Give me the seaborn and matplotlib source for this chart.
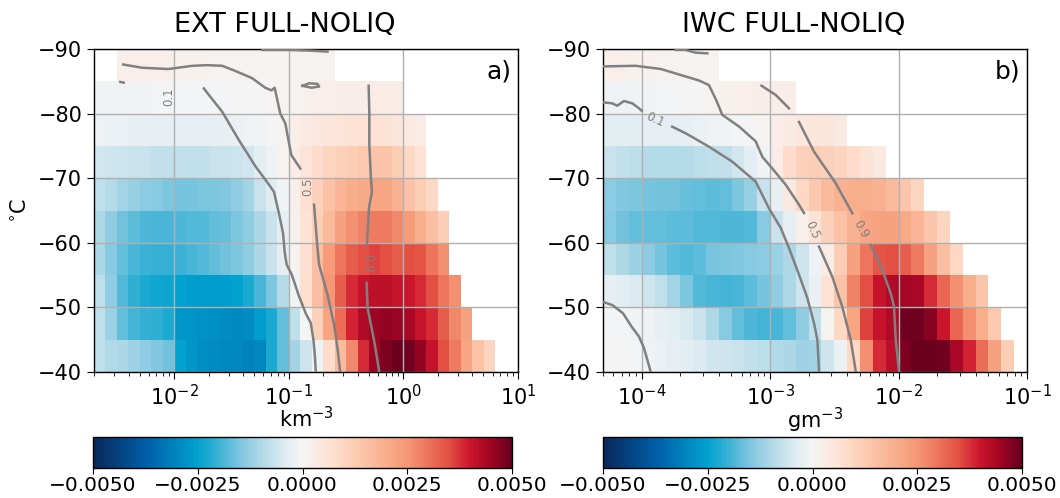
import numpy as np
import matplotlib
matplotlib.use("Agg")
import matplotlib.pyplot as plt
import seaborn as sns
from matplotlib.colors import LinearSegmentedColormap
from matplotlib.ticker import FuncFormatter

nan = np.nan

# ---------------- data ----------------
temp_edges = [-90, -85, -80, -75, -70, -65, -60, -55, -50, -45, -40]
ext_logx_edges = [round(-2.7 + 0.1 * i, 2) for i in range(36)]
iwc_logx_edges = [round(-4.3 + 0.1 * i, 2) for i in range(33)]
value_scale = 1e-3

# EXT rows (-90..-85 first), units 1e-3
ext_rows = [
    [nan, nan, 0.2, 0.2, 0.2, 0.2, 0.2, 0.15, 0.15, 0.15, 0.1, 0.1, 0.1, 0.1, 0.1, 0.1, 0.1, 0.1, 0.1, 0.1, 0.1],
    [-0.1, -0.1, -0.1, -0.1, -0.1, -0.05, -0.05, -0.05, -0.05, -0.05, -0.05, -0.05, 0, 0, 0,
     0.05, 0.1, 0.1, 0.15, 0.2, 0.2, 0.25, 0.25, 0.25, 0.3, 0.3, 0.3],
    [-0.15, -0.2, -0.2, -0.25, -0.25, -0.3, -0.3, -0.3, -0.3, -0.3, -0.25, -0.25, -0.2, -0.15, -0.1,
     0, 0.1, 0.25, 0.35, 0.45, 0.5, 0.55, 0.6, 0.65, 0.65, 0.6, 0.5, 0.4, 0.3],
    [-0.55, -0.6, -0.65, -0.7, -0.7, -0.75, -0.75, -0.75, -0.75, -0.75, -0.7, -0.7, -0.65, -0.55, -0.35,
     -0.15, 0.1, 0.3, 0.55, 0.8, 1.0, 1.1, 1.2, 1.3, 1.45, 1.45, 1.2, 0.9, 0.6],
    [-0.8, -0.9, -1.1, -1.25, -1.35, -1.4, -1.5, -1.55, -1.55, -1.5, -1.5, -1.45, -1.3, -1.1, -0.7,
     -0.4, -0.1, 0.2, 0.7, 1.1, 1.5, 1.8, 2.0, 2.1, 2.2, 2.2, 1.9, 1.5, 1.2, 0.9],
    [-1.0, -1.3, -1.6, -1.75, -1.85, -1.9, -1.9, -1.85, -1.8, -1.8, -1.7, -1.65, -1.5, -1.3, -1.05,
     -0.7, -0.3, 0.15, 0.6, 1.2, 1.7, 2.3, 2.6, 2.8, 2.9, 2.9, 2.7, 2.4, 2.0, 1.6, 1.2],
    [-1.05, -1.4, -1.7, -1.9, -2.0, -2.05, -2.05, -2.0, -1.9, -1.8, -1.7, -1.6, -1.5, -1.3, -1.05,
     -0.7, -0.3, 0.1, 0.7, 1.6, 2.4, 3.0, 3.3, 3.5, 3.6, 3.5, 3.3, 3.5, 3.4, 3.0, 2.6],
    [-0.8, -1.3, -1.8, -2.1, -2.3, -2.35, -2.4, -2.5, -2.55, -2.6, -2.6, -2.55, -2.5, -2.3, -1.9,
     -1.5, -0.9, -0.1, 0.7, 1.6, 2.5, 3.3, 3.8, 4.1, 4.15, 4.15, 4.1, 4.0, 3.8, 3.5, 3.0, 2.6],
    [-0.8, -1.2, -1.7, -1.95, -2.05, -2.1, -2.3, -2.7, -2.75, -2.8, -2.85, -2.9, -2.95, -2.9, -2.6,
     -2.3, -1.7, -0.8, 0.0, 1.1, 2.2, 3.1, 3.9, 4.3, 4.5, 4.6, 4.55, 4.4, 4.1, 3.8, 3.3, 2.7, 2.3],
    [-0.8, -0.95, -1.05, -1.15, -1.3, -1.45, -1.6, -2.5, -2.7, -2.85, -2.9, -2.95, -3.0, -3.05, -3.0,
     -2.3, -1.7, -1.1, -0.6, -0.15, 0.8, 1.7, 2.7, 3.8, 4.5, 4.8, 4.95, 4.9, 4.6, 4.1, 3.5, 2.9, 2.2, 1.5, 1.0],
]

# IWC rows (-90..-85 first), units 1e-3
iwc_rows = [
    [0.2, 0.2, 0.15, 0.15, 0.1, 0.1, 0.1, 0.1, 0.1],
    [-0.15, -0.15, -0.1, -0.1, -0.05, -0.05, 0, 0, 0.1, 0.15, 0.2, 0.2, 0.25, 0.25, 0.25],
    [-0.35, -0.35, -0.35, -0.3, -0.3, -0.3, -0.25, -0.2, -0.15, -0.1, -0.05, 0.0, 0.1, 0.25, 0.35,
     0.45, 0.5, 0.5, 0.4],
    [-0.7, -0.75, -0.85, -0.9, -0.9, -0.9, -0.9, -0.85, -0.8, -0.75, -0.55, -0.35, -0.1, 0.3, 0.8,
     1.1, 1.2, 1.1, 1.0, 0.8, 0.6, 0.4],
    [-1.35, -1.45, -1.5, -1.55, -1.6, -1.6, -1.65, -1.7, -1.75, -1.7, -1.5, -1.25, -0.7, -0.25, 0.4,
     0.9, 1.3, 1.7, 1.9, 2.0, 2.0, 1.9, 1.7, 1.4, 1.0],
    [-1.4, -1.6, -1.7, -1.7, -1.7, -1.75, -1.75, -1.8, -1.8, -1.85, -1.85, -1.8, -1.4, -0.7, -0.3,
     0.2, 0.6, 1.1, 1.5, 1.9, 2.2, 2.3, 2.3, 2.1, 1.8, 1.4, 1.0],
    [-0.8, -1.0, -1.2, -1.35, -1.55, -1.75, -1.8, -1.75, -1.55, -1.5, -1.45, -1.4, -1.35, -1.2, -1.0,
     -0.6, -0.15, 0.3, 1.2, 2.3, 3.0, 3.4, 3.5, 3.3, 2.9, 2.3, 1.6, 0.9],
    [-0.25, -0.35, -0.45, -0.6, -0.8, -1.1, -1.5, -1.8, -1.9, -1.95, -1.9, -1.75, -1.55, -1.3, -1.0,
     -0.6, -0.2, 0.6, 1.5, 2.8, 3.5, 4.1, 4.3, 4.45, 4.4, 3.8, 3.2, 2.6, 2.0, 1.4],
    [-0.05, -0.05, -0.1, -0.15, -0.25, -0.35, -0.5, -0.7, -1.0, -1.4, -1.7, -1.85, -1.95, -1.9, -1.7,
     -1.3, -0.8, 0.1, 0.9, 2.2, 3.6, 4.1, 4.3, 4.9, 4.9, 4.7, 4.0, 3.2, 2.6, 2.0, 1.3],
    [0.0, 0.0, -0.05, -0.15, -0.2, -0.3, -0.35, -0.45, -0.55, -0.6, -0.7, -0.75, -0.85, -0.95, -1.05,
     -1.15, -1.1, -0.6, -0.2, 0.9, 2.6, 3.8, 4.2, 4.8, 4.95, 4.95, 4.9, 4.4, 3.9, 3.1, 2.3, 1.2],
]

# contour segments: (log10 x, temperature)
ext_c01 = [
    [(-2.47, -84.9), (-2.44, -84.8)],
    [(-1.741, -83.9), (-1.697, -82.9), (-1.581, -80.3), (-1.435, -75.9), (-1.289, -71.8), (-1.201, -69.7),
     (-1.129, -67.9), (-1.085, -64.5), (-1.05, -61.5), (-1.035, -58.5), (-1.018, -56.6), (-0.974, -55.1),
     (-0.916, -52.0), (-0.85, -49.0), (-0.808, -47.6), (-0.785, -45.0), (-0.772, -42.5), (-0.764, -40.0)],
]
ext_c05 = [
    [(-2.444, -87.6), (-2.28, -87.1), (-2.05, -86.9), (-1.84, -87.4), (-1.71, -87.5), (-1.58, -87.4),
     (-1.466, -86.6), (-1.321, -85.5), (-1.205, -84.0), (-1.15, -83.6), (-1.123, -84.0), (-1.074, -80.0),
     (-1.03, -78.5), (-0.978, -73.6), (-0.899, -71.5)],
    [(-0.779, -65.9), (-0.764, -62.5), (-0.752, -59.7), (-0.735, -56.6), (-0.662, -52.0), (-0.604, -47.3),
     (-0.575, -43.7), (-0.551, -40.0)],
]
ext_c09 = [
    [(-1.231, -89.85), (-0.997, -89.85), (-0.822, -89.75), (-0.662, -89.6)],
    [(-0.88, -84.3), (-0.82, -84.7), (-0.75, -84.6), (-0.735, -84.2), (-0.80, -84.0), (-0.88, -84.3)],
    [(-0.303, -84.3), (-0.297, -80.0), (-0.297, -75.1), (-0.283, -70.0), (-0.274, -67.9), (-0.30, -65.4),
     (-0.318, -59.7)],
    [(-0.321, -53.8), (-0.312, -49.9), (-0.254, -44.75), (-0.21, -40.0)],
]
ext_labels = [("0.1", -2.047, -82.6, 90), ("0.5", -0.835, -68.7, 90), ("0.9", -0.315, -56.8, -90)]

iwc_c01 = [
    [(-4.307, -81.75), (-4.229, -81.59), (-4.19, -81.22), (-4.138, -81.95), (-4.073, -81.59), (-4.021, -80.82),
     (-4.0, -80.45)],
    [(-3.762, -77.97), (-3.657, -76.95), (-3.476, -74.88), (-3.294, -72.55), (-3.112, -69.46), (-3.009, -65.34),
     (-2.917, -62.29), (-2.853, -59.19), (-2.775, -55.06), (-2.710, -51.45), (-2.658, -47.54), (-2.632, -44.95),
     (-2.619, -40.05)],
    [(-4.307, -50.88), (-4.229, -50.37), (-4.145, -49.09), (-4.079, -47.04), (-4.021, -45.49), (-3.982, -43.71),
     (-3.930, -40.05)],
]
iwc_c05 = [
    [(-4.307, -87.3), (-4.047, -87.4), (-3.85, -86.9), (-3.70, -86.0), (-3.55, -85.1), (-3.476, -84.4),
     (-3.42, -82.1), (-3.372, -79.8), (-3.242, -78.0), (-3.112, -75.7), (-3.06, -73.3), (-2.983, -71.5),
     (-2.879, -69.0), (-2.775, -65.9), (-2.736, -64.6)],
    [(-2.619, -59.4), (-2.516, -54.75), (-2.438, -50.1), (-2.372, -44.95), (-2.333, -40.05)],
]
iwc_c09 = [
    [(-3.735, -89.85), (-3.657, -89.85), (-3.579, -89.43), (-3.489, -89.33)],
    [(-3.067, -84.32), (-2.956, -82.88), (-2.853, -80.82)],
    [(-2.775, -78.70), (-2.658, -74.10), (-2.489, -69.21), (-2.360, -64.57)],
    [(-2.217, -59.66), (-2.126, -55.79), (-2.061, -52.18), (-2.035, -50.11), (-2.022, -44.95), (-1.996, -40.05)],
]
iwc_labels = [("0.1", -3.891, -79.12, -25), ("0.5", -2.675, -62.0, -66), ("0.9", -2.29, -62.1, -60)]

titles = ["EXT FULL-NOLIQ", "IWC FULL-NOLIQ"]
xlabels = ["km$^{-3}$", "gm$^{-3}$"]
panel_tags = ["a)", "b)"]
xlims = [(2e-3, 1e1), (5e-5, 1e-1)]
cbar_ticks = [-0.005, -0.0025, 0.0, 0.0025, 0.005]

# ---------------- style ----------------
cmap = LinearSegmentedColormap.from_list("custom_div", [
    (0.00, (8 / 255, 40 / 255, 90 / 255)),
    (0.12, (0 / 255, 92 / 255, 165 / 255)),
    (0.20, (0 / 255, 135 / 255, 192 / 255)),
    (0.25, (0 / 255, 162 / 255, 206 / 255)),
    (0.30, (60 / 255, 178 / 255, 213 / 255)),
    (0.35, (125 / 255, 198 / 255, 223 / 255)),
    (0.40, (175 / 255, 216 / 255, 231 / 255)),
    (0.46, (224 / 255, 236 / 255, 242 / 255)),
    (0.50, (245 / 255, 245 / 255, 245 / 255)),
    (0.56, (253 / 255, 227 / 255, 214 / 255)),
    (0.63, (252 / 255, 202 / 255, 177 / 255)),
    (0.70, (248 / 255, 174 / 255, 140 / 255)),
    (0.75, (245 / 255, 152 / 255, 118 / 255)),
    (0.85, (228 / 255, 80 / 255, 68 / 255)),
    (0.90, (205 / 255, 22 / 255, 45 / 255)),
    (0.95, (160 / 255, 5 / 255, 35 / 255)),
    (1.00, (103 / 255, 0 / 255, 31 / 255)),
])

line_color = "#808080"


def pad(row, n):
    return list(row) + [nan] * (n - len(row))


def cbar_fmt(v, pos):
    if abs(v) < 1e-12:
        v = 0.0
    return f"{v:.4f}".replace("-", "\u2212")


fig = plt.figure(figsize=(10.6, 4.98), dpi=100)
ax_pos = [[94 / 1060, 1 - 372 / 498, 424 / 1060, 323 / 498],
          [603 / 1060, 1 - 372 / 498, 424 / 1060, 323 / 498]]
cb_pos = [[93 / 1060, 1 - 468 / 498, 419 / 1060, 31 / 498],
          [603 / 1060, 1 - 468 / 498, 419 / 1060, 31 / 498]]

panels = [
    (ext_logx_edges, ext_rows, [ext_c01, ext_c05, ext_c09], ext_labels),
    (iwc_logx_edges, iwc_rows, [iwc_c01, iwc_c05, iwc_c09], iwc_labels),
]

for i, (edges, rows, contours, labels) in enumerate(panels):
    ax = fig.add_axes(ax_pos[i])
    ax.set_xscale("log")
    ncol = len(edges) - 1
    z = np.array([pad(r, ncol) for r in rows], dtype=float) * value_scale
    z = np.ma.masked_invalid(z)
    xe = 10.0 ** np.array(edges)
    mesh = ax.pcolormesh(xe, temp_edges, z, cmap=cmap, vmin=-0.005, vmax=0.005,
                         shading="flat", antialiased=False, edgecolors="none", zorder=1)
    for level in contours:
        for seg in level:
            lx = np.array([p[0] for p in seg])
            tt = np.array([p[1] for p in seg])
            sns.lineplot(x=10.0 ** lx, y=tt, sort=False, estimator=None, color=line_color,
                         lw=1.8, ax=ax, zorder=3, legend=False)
    for txt, lx, tt, rot in labels:
        ax.text(10.0 ** lx, tt, txt, color=line_color, fontsize=8.5, rotation=rot,
                ha="center", va="center", rotation_mode="anchor", zorder=4)
    ax.set_xlim(*xlims[i])
    ax.set_ylim(-40, -90)
    ax.set_yticks([-90, -80, -70, -60, -50, -40])
    ax.grid(True, which="major", color="#b0b0b0", lw=1.0, zorder=2)
    ax.set_axisbelow("line")
    ax.tick_params(axis="both", which="major", labelsize=15, length=5, direction="out")
    ax.tick_params(axis="x", which="minor", length=3, direction="out")
    ax.set_xlabel(xlabels[i], fontsize=15, labelpad=-2)
    if i == 0:
        ax.set_ylabel("$^{\\circ}$C", fontsize=15, labelpad=6)
    else:
        ax.set_ylabel("")
    ax.set_title(titles[i], fontsize=19.5, x=0.45, pad=12)
    ax.text(0.985, 0.93, panel_tags[i], transform=ax.transAxes, fontsize=18,
            ha="right", va="center")
    for s in ax.spines.values():
        s.set_color("black")
        s.set_linewidth(1.0)

    cax = fig.add_axes(cb_pos[i])
    cb = fig.colorbar(mesh, cax=cax, orientation="horizontal")
    cb.set_ticks(cbar_ticks)
    cb.ax.xaxis.set_major_formatter(FuncFormatter(cbar_fmt))
    cb.ax.tick_params(labelsize=14.5, length=4.5, pad=1.5)
    cb.outline.set_linewidth(1.0)

fig.savefig("out.png", dpi=100)
